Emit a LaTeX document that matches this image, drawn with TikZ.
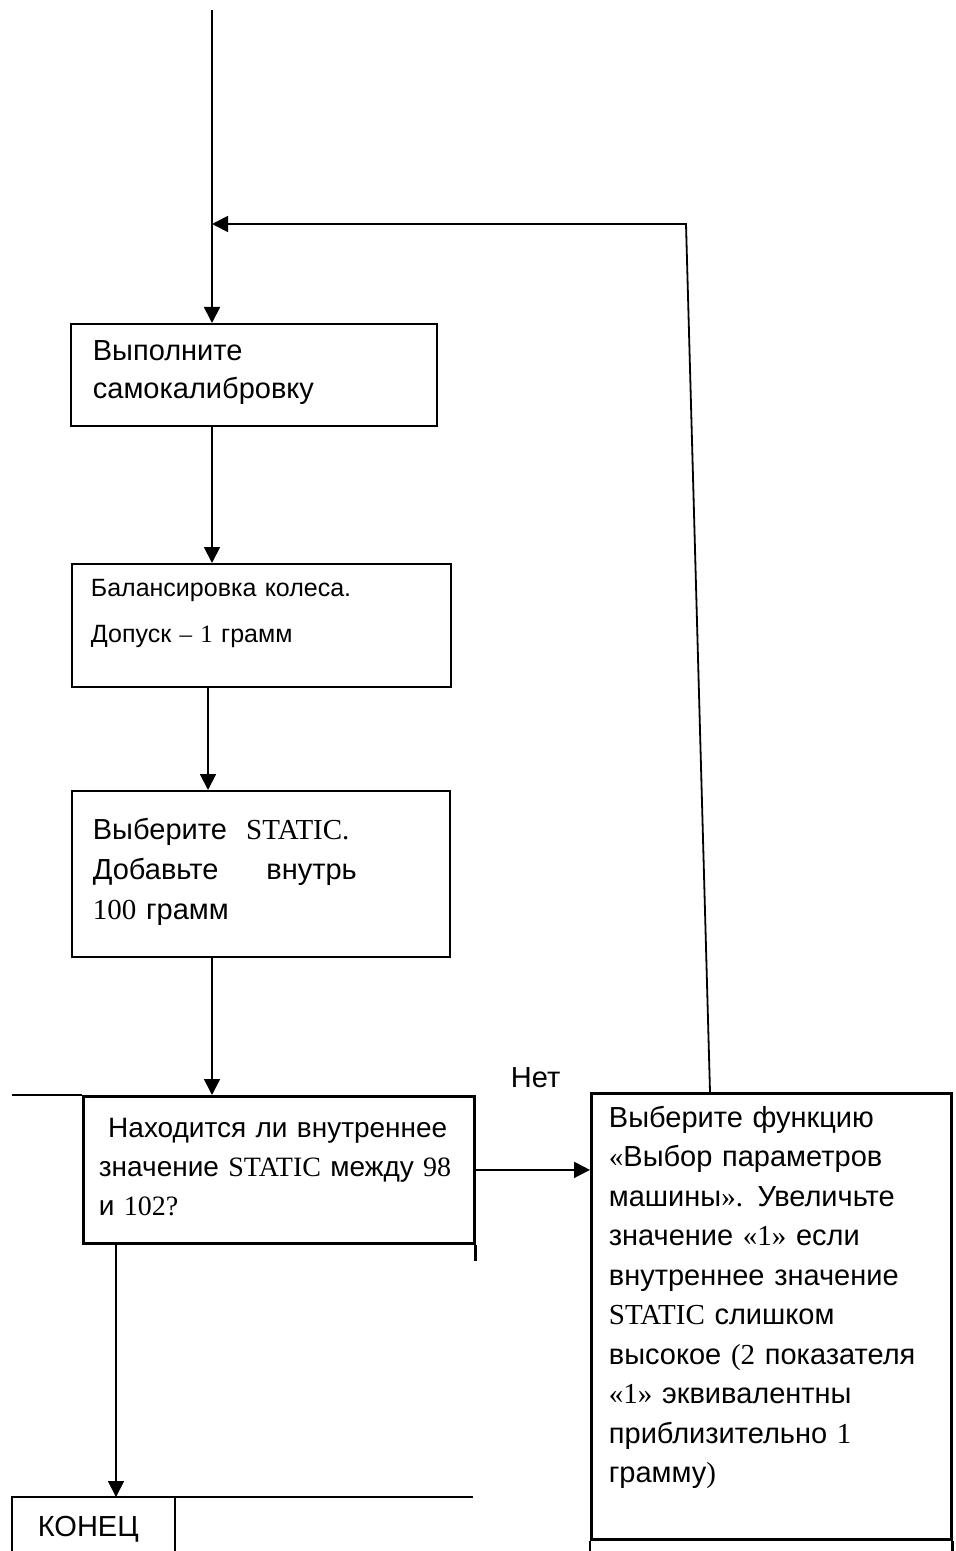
\documentclass[tikz,border=0pt]{standalone}
\usepackage{fontspec}
\setmainfont{Liberation Sans}
\newfontfamily\tnr{Liberation Serif}
\usetikzlibrary{arrows.meta}
\tikzset{>/.tip={Triangle[length=8pt,width=8pt]},
  box/.style={draw, line width=1pt, anchor=north west, inner sep=0pt},
  heavy/.style={line width=1.4pt},
  txt/.style={anchor=base west, inner sep=0pt, text width=190pt, align=left,
    font=\fontsize{14.5}{19.5}\selectfont}}

\begin{document}
\begin{tikzpicture}[x=0.5pt, y=-0.5pt, line width=0.9pt]
\useasboundingbox (0,0) rectangle (955,1551);
\coordinate (start) at (212,10);
\coordinate (bend)  at (686,224);
\coordinate (rise)  at (710,1092);
\coordinate (endtop) at (12,1497);
\node[box, minimum width=183pt, minimum height=51pt] (calib) at (70,323) {};
\node[box, minimum width=189.5pt, minimum height=61.5pt] (balance) at (71,563) {};
\node[box, minimum width=189pt, minimum height=83pt] (static) at (71,790) {};
\node[box, heavy, minimum width=195.5pt, minimum height=73.5pt] (check) at (82,1095) {};
\node[box, heavy, minimum width=180pt, minimum height=223pt] (adjust) at (590,1092) {};
% texts
\node[txt, font=\fontsize{14.5}{19}\selectfont] (calibtext) at (92,360) {Выполните\\самокалибровку};
\node[txt, font=\fontsize{12.5}{23}\selectfont] (balancetext) at (90,596)
  {Балансировка колеса.\\Допуск {\tnr– 1} грамм};
\node[txt, font=\fontsize{14.5}{20}\selectfont] (statictext) at (92,839)
  {Выберите\ \ {\tnr STATIC.}\\Добавьте\hspace{24pt}внутрь\\{\tnr 100} грамм};
\node[txt, font=\fontsize{14}{19.5}\selectfont] (checktext) at (98,1137)
  {\ Находится ли внутреннее\\значение {\tnr STATIC} между {\tnr 98}\\и {\tnr 102?}};
\node[txt, font=\fontsize{14.5}{19.75}\selectfont] (adjusttext) at (608,1127)
  {Выберите функцию\\{\tnr«}Выбор параметров\\машины{\tnr».} Увеличьте\\значение {\tnr«1»} если\\внутреннее значение\\{\tnr STATIC} слишком\\высокое {\tnr(2} показателя\\{\tnr«1»} эквивалентны\\приблизительно {\tnr 1}\\грамму{\tnr)}};
\node[txt, text width=] (no) at (510,1087) {Нет};
\node[txt, text width=] (finish) at (37,1536) {КОНЕЦ};
% connectors
\draw[->] (start) -- (start |- calib.north);
\draw[->] (start |- calib.south) -- (start |- balance.north);
\draw[->] ([xshift=-2pt]start |- balance.south) -- ([xshift=-2pt]start |- static.north);
\draw[->] (start |- static.south) -- (start |- check.north);
\draw[->] (rise) -- (bend) -- (start |- bend);
\draw[->] (check.east) -- (check.east -| adjust.west);
\draw[->] ([xshift=17pt]check.south west) -- ([xshift=17pt]check.south west |- endtop);
% table fragments
\draw[heavy] (12,1095) -- (check.north west);
\draw[heavy] (check.south east) -- ++(0,16);
\draw[heavy] (adjust.south west) -- ++(0,13);
\draw[heavy] (adjust.south east) -- ++(0,13);
\draw[heavy] (12,1551) |- (473,1497);
\draw[heavy] (175,1497) -- (175,1551);
\end{tikzpicture}
\end{document}
